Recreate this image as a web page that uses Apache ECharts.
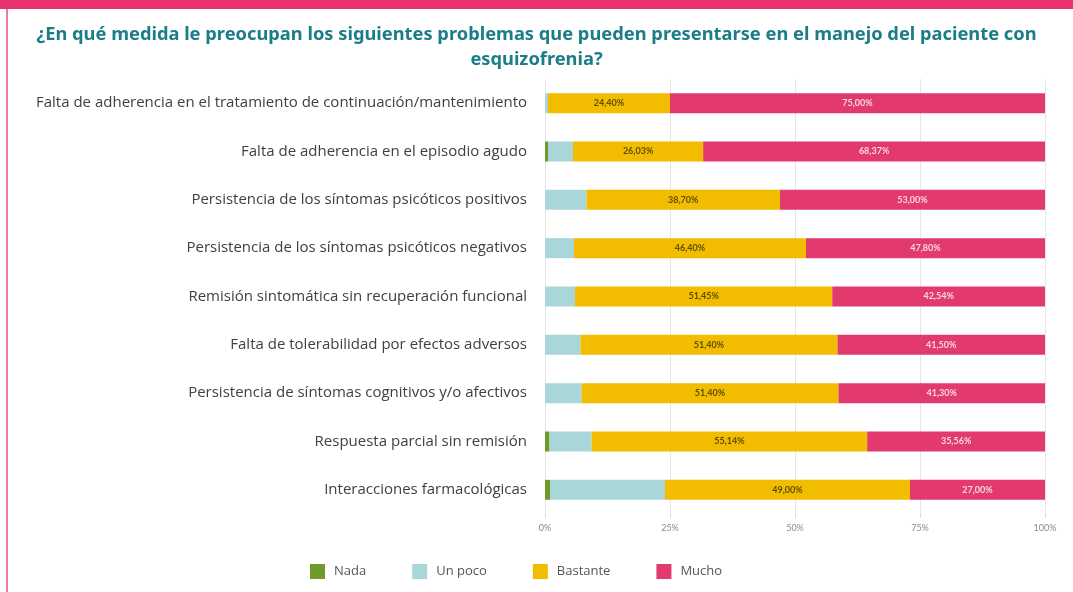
<!DOCTYPE html>
<html>
<head>
<meta charset="utf-8">
<style>
  html, body { margin: 0; padding: 0; background: #ffffff; }
  #chart { width: 1073px; height: 592px; }
</style>
<script src="https://cdn.jsdelivr.net/npm/echarts@6/dist/echarts.min.js"></script>
</head>
<body>
<div id="chart"></div>
<script>
const titleText = "¿En qué medida le preocupan los siguientes problemas que pueden presentarse en el manejo del paciente con\nesquizofrenia?";
const categories = [
  "Falta de adherencia en el tratamiento de continuación/mantenimiento",
  "Falta de adherencia en el episodio agudo",
  "Persistencia de los síntomas psicóticos positivos",
  "Persistencia de los síntomas psicóticos negativos",
  "Remisión sintomática sin recuperación funcional",
  "Falta de tolerabilidad por efectos adversos",
  "Persistencia de síntomas cognitivos y/o afectivos",
  "Respuesta parcial sin remisión",
  "Interacciones farmacológicas"
];
const seriesNames = ["Nada", "Un poco", "Bastante", "Mucho"];
const nada     = [0,    0.6,  0,    0,    0,    0,    0,    0.9,  1.0];
const unPoco   = [0.6,  5.0,  8.3,  5.8,  6.0,  7.1,  7.3,  8.4,  23.0];
const bastante = [24.40, 26.03, 38.70, 46.40, 51.45, 51.40, 51.40, 55.14, 49.00];
const mucho    = [75.00, 68.37, 53.00, 47.80, 42.54, 41.50, 41.30, 35.56, 27.00];
const xTicks   = [0, 25, 50, 75, 100];

const colors = ["#6f9a2a", "#a9d6d9", "#f2bd00", "#e23a6d"];
const fmt = p => p.value.toFixed(2).replace('.', ',') + '%';

const chart = echarts.init(document.getElementById('chart'), null, { renderer: 'canvas' });

function mk(name, data, color, labelColor) {
  return {
    name: name,
    type: 'bar',
    stack: 'total',
    data: data,
    barWidth: 20,
    itemStyle: { color: color },
    label: labelColor ? {
      show: true,
      position: 'inside',
      formatter: fmt,
      color: labelColor,
      fontSize: 9,
      fontFamily: 'Lato',
      fontWeight: 'bold'
    } : { show: false },
    emphasis: { disabled: true }
  };
}

chart.setOption({
  animation: false,
  color: colors,
  title: {
    text: titleText,
    left: 'center',
    top: 17,
    textStyle: {
      color: '#1b7d88',
      fontSize: 18.3,
      fontWeight: 'bold',
      fontFamily: 'Noto Sans',
      lineHeight: 25
    }
  },
  graphic: [
    { type: 'rect', shape: { x: 0, y: 0, width: 1073, height: 9 }, style: { fill: '#e8336f' }, silent: true },
    { type: 'rect', shape: { x: 6, y: 9, width: 2, height: 583 }, style: { fill: '#f178a2' }, silent: true }
  ],
  legend: {
    data: seriesNames,
    left: 305,
    top: 559,
    itemWidth: 15,
    itemHeight: 15,
    itemGap: 46,
    icon: 'rect',
    textStyle: { color: '#555555', fontSize: 13, fontFamily: 'Open Sans', padding: [0, 0, 0, 4] },
    selectedMode: false
  },
  grid: { left: 545, right: 28, top: 79, bottom: 78, containLabel: false },
  xAxis: {
    type: 'value',
    min: xTicks[0],
    max: xTicks[xTicks.length - 1],
    interval: 25,
    axisLine: { show: false },
    axisTick: { show: true, length: 4, lineStyle: { color: '#d9d9d9' } },
    splitLine: { show: true, lineStyle: { color: '#e6e6e6', width: 1 } },
    axisLabel: { formatter: v => v + '%', color: '#8a8a8a', fontSize: 9, fontFamily: 'Lato', margin: 10 }
  },
  yAxis: {
    type: 'category',
    data: categories,
    inverse: true,
    axisLine: { show: false },
    axisTick: { show: false },
    axisLabel: { color: '#404040', fontSize: 15, fontFamily: 'Open Sans', margin: 18 }
  },
  series: [
    mk(seriesNames[0], nada, colors[0], null),
    mk(seriesNames[1], unPoco, colors[1], null),
    mk(seriesNames[2], bastante, colors[2], '#5e4e00'),
    mk(seriesNames[3], mucho, colors[3], '#f7d7e2')
  ]
});
</script>
</body>
</html>
